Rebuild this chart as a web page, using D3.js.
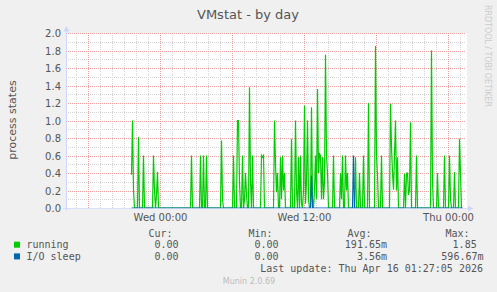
<!DOCTYPE html>
<html><head><meta charset="utf-8">
<script src="https://cdn.jsdelivr.net/npm/d3@7"></script>
<style>
html,body{margin:0;padding:0;background:#f0f0f0;}
svg{display:block;}
</style></head><body>
<svg id="chart" width="497" height="292"></svg>
<script>
const title = "VMstat - by day";
const yLabel = "process states";
const timeStart = "14 16:10", timeEnd = "16 01:30";
const yMajorTicks = [0, 0.2, 0.4, 0.6, 0.8, 1.0, 1.2, 1.4, 1.6, 1.8, 2.0];
const yTickLabels = ["0.0","0.2","0.4","0.6","0.8","1.0","1.2","1.4","1.6","1.8","2.0"];
const xTickTimes = ["15 00:00", "15 12:00", "16 00:00"];
const xTickLabels = ["Wed 00:00", "Wed 12:00", "Thu 00:00"];

const running = [
["14 21:35",0.38],["14 21:40",1.0],["14 21:45",0.2],["14 21:50",0],
["14 22:05",0],["14 22:10",0.81],["14 22:15",0],
["14 22:30",0],["14 22:35",0.6],["14 22:40",0],
["14 23:20",0],["14 23:25",0.6],["14 23:30",0.2],["14 23:35",0],["14 23:40",0.15],["14 23:45",0.41],["14 23:50",0],
["15 02:30",0],["15 02:35",0.6],["15 02:40",0],
["15 03:15",0],["15 03:20",0.6],["15 03:25",0],["15 03:30",0],["15 03:35",0.6],["15 03:40",0],["15 03:45",0],["15 03:50",0.6],["15 03:55",0],
["15 05:00",0],["15 05:05",0.77],["15 05:10",0.1],["15 05:15",0],
["15 06:00",0],["15 06:05",0.6],["15 06:10",0],["15 06:20",0],["15 06:25",1.0],["15 06:30",1.0],["15 06:35",0.3],["15 06:40",0],["15 06:45",0],["15 06:50",0.6],["15 06:55",0],["15 07:00",0.1],["15 07:05",0.4],["15 07:10",0.15],["15 07:15",0],["15 07:20",0],["15 07:25",1.38],["15 07:30",0.3],["15 07:35",0],["15 07:40",0.6],["15 07:45",0],
["15 08:20",0],["15 08:25",0.6],["15 08:30",0.58],["15 08:35",0.6],["15 08:40",0],
["15 09:25",0],["15 09:30",1.0],["15 09:35",0.5],["15 09:40",0.18],["15 09:45",0.4],["15 09:50",0],["15 09:55",0],["15 10:00",0.58],["15 10:05",0.1],["15 10:10",0.6],["15 10:15",0.2],["15 10:20",0.4],["15 10:25",0],
["15 10:50",0],["15 10:55",0.79],["15 11:00",0],["15 11:10",0],["15 11:15",1.0],["15 11:20",0.2],["15 11:25",0],["15 11:30",0.58],["15 11:35",0],["15 11:40",0.6],["15 11:45",0.05],["15 11:50",0],["15 11:55",0.2],
["15 12:00",1.17],["15 12:05",0.05],["15 12:10",0.3],["15 12:15",1.0],["15 12:20",0.1],["15 12:25",0],["15 12:30",0],["15 12:35",1.15],["15 12:40",0.1],["15 12:45",0],["15 12:50",0.2],["15 12:55",0.6],["15 13:00",0.1],["15 13:05",1.36],["15 13:10",0.4],["15 13:15",0.62],["15 13:20",0.6],["15 13:25",0.1],["15 13:30",0.58],["15 13:35",0.1],["15 13:40",0.3],["15 13:45",1.75],["15 13:50",0.6],["15 13:55",0.4],["15 14:00",0],
["15 14:20",0],["15 14:25",0.6],["15 14:30",0],
["15 14:55",0],["15 15:00",0.4],["15 15:05",0.1],["15 15:10",0.6],["15 15:15",0],["15 15:20",0],["15 15:25",0.6],["15 15:30",0.2],["15 15:35",0.4],["15 15:40",0],
["15 16:10",0],["15 16:15",0.58],["15 16:20",0],
["15 16:30",0],["15 16:35",0.4],["15 16:40",0],["15 16:50",0],["15 16:55",0.6],["15 17:00",0],
["15 17:15",0],["15 17:20",1.2],["15 17:25",0],
["15 17:50",0],["15 17:55",1.85],["15 18:00",0.6],["15 18:05",0.38],["15 18:10",0],["15 18:20",0],["15 18:25",0.6],["15 18:30",0],
["15 19:05",0],["15 19:10",1.19],["15 19:15",0.7],["15 19:20",0.4],["15 19:25",0.21],["15 19:30",0.6],["15 19:35",1.0],["15 19:40",0.2],["15 19:45",0.58],["15 19:50",0],
["15 20:15",0],["15 20:20",0.39],["15 20:25",0],["15 20:30",0.4],["15 20:35",0.4],["15 20:40",0.15],["15 20:45",0.2],["15 20:50",0.98],["15 20:55",0],
["15 21:15",0],["15 21:20",0.6],["15 21:25",0],
["15 22:30",0],["15 22:35",1.8],["15 22:40",0.3],["15 22:45",0],
["15 23:00",0],["15 23:05",0.4],["15 23:10",0],
["15 23:35",0],["15 23:40",0.6],["15 23:45",0],
["16 00:00",0],["16 00:05",0.6],["16 00:10",0.1],["16 00:15",0],
["16 00:25",0],["16 00:30",0.41],["16 00:35",0],
["16 00:50",0],["16 00:55",0.79],["16 01:00",0.4],["16 01:05",0],["16 01:10",0]
];
const ioSleep = [
["14 21:35",0],["15 12:30",0],["15 12:35",0.37],["15 12:40",0],
["15 16:00",0],["15 16:05",0.6],["15 16:10",0],["16 01:10",0]
];

const seriesNames = ["running", "I/O sleep"];
const seriesColors = ["#00cc00", "#0066b3"];
const statHeaders = ["Cur:", "Min:", "Avg:", "Max:"];
const curValues = ["0.00", "0.00"];
const minValues = ["0.00", "0.00"];
const avgValues = ["191.65m", "3.56m"];
const maxValues = ["1.85", "596.67m"];
const lastUpdate = "Last update: Thu Apr 16 01:27:05 2026";
const footer = "Munin 2.0.69";
const watermark = "RRDTOOL / TOBI OETIKER";

const parse = s => d3.timeParse("%Y-%m-%d %H:%M")("2026-04-" + s);
const svg = d3.select("#chart");
const L = 66, R = 466, T = 33, B = 208;

const x = d3.scaleTime().domain([parse(timeStart), parse(timeEnd)]).range([L, R]);
const y = d3.scaleLinear().domain([0, 2]).range([B, T]);

svg.append("rect").attr("width", 497).attr("height", 292).attr("fill", "#f0f0f0");
svg.append("rect").attr("x", L).attr("y", T).attr("width", R - L + 1).attr("height", B - T + 1).attr("fill", "#ffffff");

const grid = svg.append("g").attr("shape-rendering", "crispEdges");
// minor grid
const minorY = y.ticks(20).filter(v => Math.round(v * 10) % 2 !== 0);
grid.selectAll(".ym").data(minorY).join("line")
  .attr("x1", L).attr("x2", R).attr("y1", d => Math.round(y(d)) + 0.5).attr("y2", d => Math.round(y(d)) + 0.5)
  .attr("stroke", "#d4d4d4").attr("stroke-dasharray", "1,1");
const hours = x.ticks(d3.timeHour.every(1)).filter(d => d.getHours() % 6 !== 0);
grid.selectAll(".xm").data(hours).join("line")
  .attr("y1", T).attr("y2", B).attr("x1", d => Math.round(x(d)) + 0.5).attr("x2", d => Math.round(x(d)) + 0.5)
  .attr("stroke", "#d4d4d4").attr("stroke-dasharray", "1,1");
// major grid
grid.selectAll(".yM").data(yMajorTicks.filter(v => v > 0)).join("line")
  .attr("x1", L).attr("x2", R).attr("y1", d => Math.round(y(d)) + 0.5).attr("y2", d => Math.round(y(d)) + 0.5)
  .attr("stroke", "#f0a0a0").attr("stroke-dasharray", "1,1");
const six = x.ticks(d3.timeHour.every(6));
grid.selectAll(".xM").data(six).join("line")
  .attr("y1", T).attr("y2", B).attr("x1", d => Math.round(x(d)) + 0.5).attr("x2", d => Math.round(x(d)) + 0.5)
  .attr("stroke", "#f0a0a0").attr("stroke-dasharray", "1,1");

// series
const line = d3.line().x(d => x(parse(d[0])) + 0.5).y(d => y(d[1]));
svg.append("path").datum(running).attr("d", line).attr("fill", "none")
  .attr("stroke", seriesColors[0]).attr("stroke-width", 1.2).attr("stroke-linejoin", "miter");
svg.append("path").datum(ioSleep).attr("d", line).attr("fill", "none")
  .attr("stroke", seriesColors[1]).attr("stroke-width", 1.2);

// axes
const axisColor = "#cfd6f8";
const ax = svg.append("g");
ax.append("line").attr("x1", L - 3).attr("x2", R + 3).attr("y1", B + 0.5).attr("y2", B + 0.5)
  .attr("stroke", axisColor).attr("stroke-opacity", 0.8).attr("shape-rendering", "crispEdges");
ax.append("line").attr("x1", L + 0.5).attr("x2", L + 0.5).attr("y1", B + 3).attr("y2", T - 3)
  .attr("stroke", axisColor).attr("shape-rendering", "crispEdges");
ax.append("path").attr("d", `M${L + 0.5},${T - 7} L${L - 2.5},${T - 1.5} L${L + 3.5},${T - 1.5} Z`).attr("fill", axisColor);
ax.append("path").attr("d", `M${R + 7.5},${B + 0.5} L${R + 2},${B - 2.5} L${R + 2},${B + 3.5} Z`).attr("fill", axisColor);

const font = "'DejaVu Sans', sans-serif";
const txt = "#555555";
// y tick labels
svg.selectAll(".yl").data(yMajorTicks).join("text")
  .attr("x", 61).attr("y", d => y(d) + 4)
  .attr("text-anchor", "end").attr("font-family", font).attr("font-size", 10).attr("fill", txt)
  .text((d, i) => yTickLabels[i]);
// x tick labels
svg.selectAll(".xl").data(xTickTimes).join("text")
  .attr("x", d => x(parse(d)) + 0.5).attr("y", 221)
  .attr("text-anchor", "middle").attr("font-family", font).attr("font-size", 10).attr("fill", txt)
  .text((d, i) => xTickLabels[i]);

// title
svg.append("text").attr("x", 248).attr("y", 18.5).attr("text-anchor", "middle")
  .attr("font-family", font).attr("font-size", 13).attr("fill", txt).text(title);
// y label
svg.append("text").attr("transform", `translate(15.5,120) rotate(-90)`).attr("text-anchor", "middle")
  .attr("font-family", font).attr("font-size", 11).attr("fill", txt).text(yLabel);
// watermark
svg.append("text").attr("transform", `translate(484.5,5) rotate(90)`).attr("text-anchor", "start")
  .attr("font-family", font).attr("font-size", 8).attr("fill", "#cccccc")
  .attr("textLength", 102).attr("lengthAdjust", "spacing").text(watermark);

// legend
const mono = "'DejaVu Sans Mono', monospace";
const colEnds = [178.5, 278.5, 387, 483.5];
const headerEnds = [172.5, 272.5, 371.5, 469.5];
const lg = svg.append("g").attr("font-family", mono).attr("font-size", 10).attr("fill", txt);
lg.selectAll(".hd").data(statHeaders).join("text")
  .attr("x", (d, i) => headerEnds[i]).attr("y", 237).attr("text-anchor", "end").text(d => d);
const rows = seriesNames.map((n, i) => ({name: n, color: seriesColors[i], vals: [curValues[i], minValues[i], avgValues[i], maxValues[i]]}));
const maxEnds = [476.7, 483.5];
rows.forEach((r, i) => {
  const by = 248 + i * 11.7;
  lg.append("rect").attr("x", 14).attr("y", by - 6.3).attr("width", 6).attr("height", 6).attr("fill", r.color);
  lg.append("text").attr("x", 26.5).attr("y", by).text(r.name);
  r.vals.forEach((v, j) => {
    lg.append("text").attr("x", j === 3 ? maxEnds[i] : colEnds[j]).attr("y", by).attr("text-anchor", "end").text(v);
  });
});
lg.append("text").attr("x", 483).attr("y", 271.7).attr("text-anchor", "end").text(lastUpdate);
svg.append("text").attr("x", 249).attr("y", 284).attr("text-anchor", "middle")
  .attr("font-family", font).attr("font-size", 8).attr("fill", "#bbbbbb").text(footer);
</script>
</body></html>
